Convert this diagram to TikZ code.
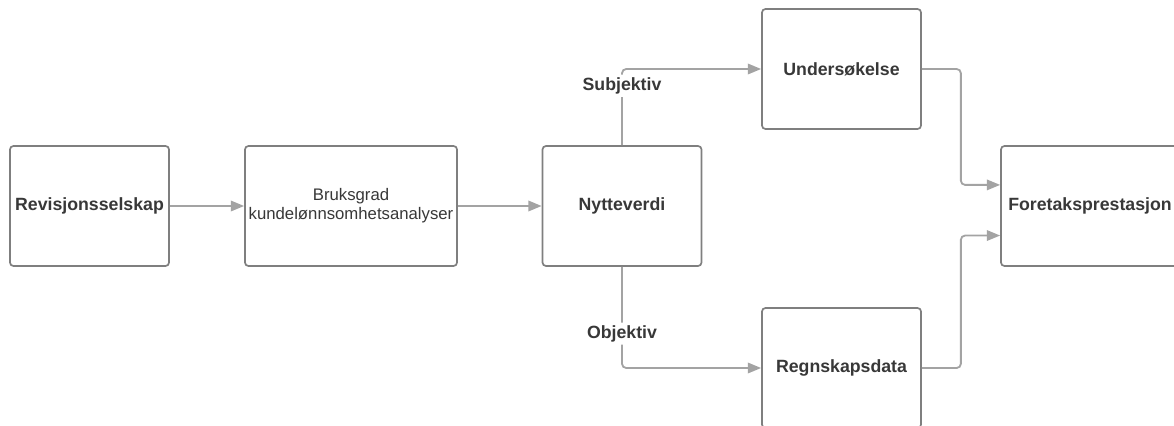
\documentclass[tikz,border=0pt]{standalone}
\usepackage{fontspec}
\setmainfont{Liberation Sans}
\usetikzlibrary{arrows.meta}
\definecolor{boxgray}{HTML}{7F7F7F}
\definecolor{linegray}{HTML}{A3A3A3}
\definecolor{txtgray}{HTML}{383838}

\begin{document}
\begin{tikzpicture}[x=0.025cm, y=-0.025cm,
  box/.style={draw=boxgray, line width=1.2pt, rounded corners=2.5pt, fill=white,
    text=txtgray, font=\bfseries\fontsize{12.6}{14}\selectfont, inner sep=0pt,
    minimum width=3.975cm, minimum height=3cm, align=center},
  link/.style={draw=linegray, line width=1.3pt, rounded corners=3pt,
    -{Triangle[length=9.5pt, width=7.5pt]}},
  tag/.style={fill=white, text=txtgray, font=\bfseries\fontsize{12.6}{14}\selectfont,
    inner sep=2pt}]
  \useasboundingbox (0, 0) rectangle (1174, 426);

  \node[box] (rev) at (89.5, 206) {Revisjonsselskap};
  \node[box, minimum width=5.3cm, font=\fontsize{11.9}{13.5}\selectfont] (bruk)
    at (351, 206) {Bruksgrad\\kundelønnsomhetsanalyser};
  \node[box] (nyt) at (622, 206) {Nytteverdi};
  \node[box] (und) at (841.5, 69) {Undersøkelse};
  \node[box] (reg) at (841.5, 368) {Regnskapsdata};
  \node[box, minimum width=4.45cm] (fore) at (1090, 206) {Foretaksprestasjon};

  \draw[link] (rev) -- (bruk);
  \draw[link] (bruk) -- (nyt);
  \draw[link] (nyt.north) |- node[tag, pos=0.39] {Subjektiv} (und.west);
  \draw[link] (nyt.south) |- node[tag, pos=0.33] {Objektiv} (reg.west);
  \draw[link] (und.east) -- ++(39, 0) |- ([yshift=15pt]fore.west);
  \draw[link] (reg.east) -- ++(39, 0) |- ([yshift=-21pt]fore.west);
\end{tikzpicture}
\end{document}
